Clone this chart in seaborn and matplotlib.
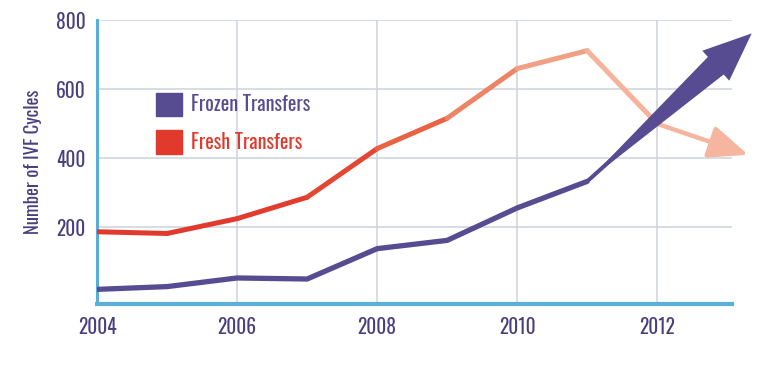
import pandas as pd
import numpy as np
import seaborn as sns
import matplotlib.pyplot as plt
from matplotlib.patches import FancyArrowPatch, Patch

# data
years = [2004, 2005, 2006, 2007, 2008, 2009, 2010, 2011]
frozen = [20, 28, 53, 50, 138, 162, 256, 333]
fresh = [187, 182, 225, 287, 428, 516, 660, 712]

# projected trend (arrows)
frozen_proj_x = [2011, 2013.35]
frozen_proj_y = [333, 762]
fresh_proj_x = [2011, 2012, 2013.3]
fresh_proj_y = [712, 500, 410]

xticks = [2004, 2006, 2008, 2010, 2012]
yticks = [200, 400, 600, 800]

purple = "#574B91"
red = "#E1392C"
label_col = "#4A3F7E"
spine_col = "#5AAFD8"
grid_col = "#CDD3DD"
# red fading to salmon along the line
fresh_cols = ["#E1392C", "#E1392C", "#E23C2E", "#E44634", "#E86244",
              "#EE8466", "#F2A085", "#F5B39B"]
salmon = "#F5B59E"

sns.set_theme(style="white")
plt.rcParams["font.family"] = ["Oswald", "Archivo Narrow", "DejaVu Sans"]

fig = plt.figure(figsize=(7.83, 3.92), dpi=100)
ax = fig.add_axes([0.124, 0.224, 0.811, 0.726])

# fresh line drawn as segments so colour can fade
segs = []
fx = years + [fresh_proj_x[1]]
fy = fresh + [fresh_proj_y[1]]
for i in range(len(fx) - 1):
    segs.append({"x": fx[i], "y": fy[i], "seg": i})
    segs.append({"x": fx[i + 1], "y": fy[i + 1], "seg": i})
seg_df = pd.DataFrame(segs)
sns.lineplot(data=seg_df, x="x", y="y", hue="seg", palette=fresh_cols,
             legend=False, sort=False, estimator=None, lw=3.6,
             solid_capstyle="round", ax=ax, zorder=3)

ax.annotate("", xy=(fresh_proj_x[2], fresh_proj_y[2]),
            xytext=(fresh_proj_x[1], fresh_proj_y[1]),
            arrowprops=dict(arrowstyle="-|>,head_length=1.2,head_width=0.5",
                            color=salmon, lw=3.2, shrinkA=0, shrinkB=0,
                            mutation_scale=20),
            annotation_clip=False, zorder=3)

df = pd.DataFrame({"year": years, "frozen": frozen})
sns.lineplot(data=df, x="year", y="frozen", color=purple, lw=3.8,
             solid_joinstyle="miter", ax=ax, zorder=4)

# tapered shaft + head for the frozen projection
p0 = np.array([frozen_proj_x[0], frozen_proj_y[0]])
p1 = np.array([frozen_proj_x[1], frozen_proj_y[1]])
base = p0 + 0.8 * (p1 - p0)
shaft = FancyArrowPatch(tuple(base), tuple(p0),
                        arrowstyle="wedge,tail_width=0.6,shrink_factor=0.5",
                        mutation_scale=29, color=purple, lw=0,
                        shrinkA=0, shrinkB=0, clip_on=False, zorder=5)
ax.add_patch(shaft)
head = FancyArrowPatch(tuple(p0), tuple(p1),
                       arrowstyle="simple,head_length=1.2,head_width=1.0,tail_width=0.1",
                       mutation_scale=29, color=purple, lw=0,
                       shrinkA=0, shrinkB=0, clip_on=False, zorder=5)
ax.add_patch(head)

ax.set_xlim(2004, 2013.07)
ax.set_ylim(-23, 802)
ax.set_xticks(xticks)
ax.set_yticks(yticks)
ax.tick_params(axis="both", length=0, labelsize=14, labelcolor=label_col)
ax.tick_params(axis="x", pad=9)
ax.tick_params(axis="y", pad=8)
ax.grid(True, color=grid_col, lw=1.1)
ax.set_axisbelow(True)
ax.set_xlabel("")
ax.set_ylabel("Number of IVF Cycles", fontsize=13.5, color=label_col, labelpad=10)

for s in ["top", "right"]:
    ax.spines[s].set_visible(False)
ax.spines["left"].set_color(spine_col)
ax.spines["left"].set_linewidth(2.2)
ax.spines["bottom"].set_color(spine_col)
ax.spines["bottom"].set_linewidth(3)

handles = [Patch(color=purple, label="Frozen Transfers"),
           Patch(color=red, label="Fresh Transfers")]
leg = ax.legend(handles=handles, loc="upper left", bbox_to_anchor=(0.065, 0.806),
                frameon=False, fontsize=14.5, handlelength=1.25, handleheight=1.4,
                handletextpad=0.45, labelspacing=0.7)
for t, c in zip(leg.get_texts(), [purple, red]):
    t.set_color(c)

fig.savefig("out.png", dpi=100)
